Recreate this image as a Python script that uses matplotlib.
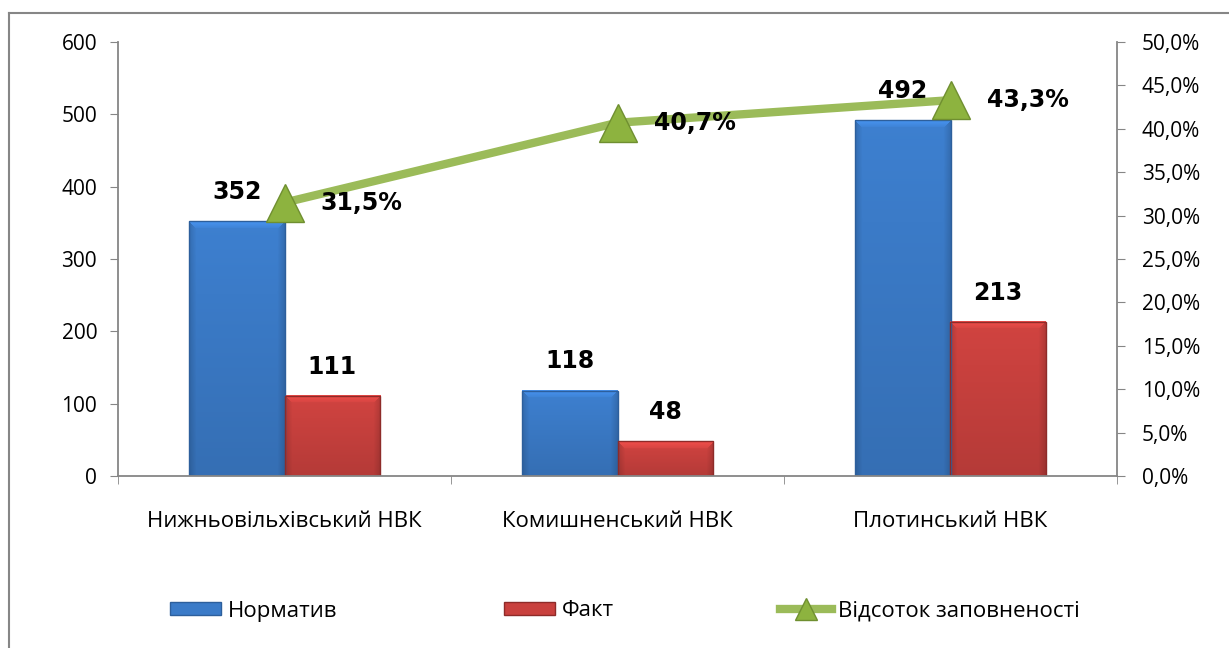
import numpy as np
import matplotlib.pyplot as plt
from matplotlib.colors import to_rgb
from matplotlib.lines import Line2D
from matplotlib.patches import Patch

plt.rcParams['font.family'] = ['Open Sans', 'DejaVu Sans']

schools = ['Нижньовільхівський НВК', 'Комишненський НВК', 'Плотинський НВК']
norm = [352, 118, 492]
fact = [111, 48, 213]
pct = [31.5, 40.7, 43.3]

blue = '#3b7bc8'
red = '#c9413e'
green = '#9bbb59'
grey = '#868686'

fig = plt.figure(figsize=(12.29, 6.48), dpi=100)
ax = fig.add_axes([118/1229, 1-476/648, 999/1229, 434/648])
ax.set_xlim(-0.5, 2.5)
ax.set_ylim(0, 600)
x = np.arange(len(schools))
w = 0.286

b1 = ax.bar(x - w/2, norm, w, edgecolor='#2d5f9c', linewidth=1)
b2 = ax.bar(x + w/2, fact, w, edgecolor='#8e2b29', linewidth=1)


def bevel(rect, base):
    # fake the excel bevel: light top strip, darker sides
    x0, y0 = ax.transData.transform((rect.get_x(), 0))
    x1, y1 = ax.transData.transform((rect.get_x() + rect.get_width(), rect.get_height()))
    wp, hp = max(int(x1 - x0), 2), max(int(y1 - y0), 2)
    f = np.ones((hp, wp))
    f *= np.linspace(1.04, 0.9, hp)[:, None]
    cols = np.arange(wp)
    rows = np.arange(hp)
    for k in range(7):
        f[:, k] *= 0.86 + 0.02 * k
        f[:, wp - 1 - k] *= 0.86 + 0.02 * k
    for k in range(min(7, hp)):
        f[k, k:wp - k] = 1.2 - 0.02 * k
    img = np.clip(np.array(to_rgb(base))[None, None, :] * f[:, :, None], 0, 1)
    ax.imshow(img, extent=[rect.get_x(), rect.get_x() + rect.get_width(), 0, rect.get_height()],
              aspect='auto', zorder=1.5, interpolation='bilinear')
    rect.set_facecolor('none')
    rect.set_zorder(2)


for bars, base in [(b1, blue), (b2, red)]:
    for r in bars:
        bevel(r, base)

for bars, vals in [(b1, norm), (b2, fact)]:
    for r, v in zip(bars, vals):
        ax.annotate(str(v), (r.get_x() + r.get_width()/2, v), xytext=(0, 21),
                    textcoords='offset points', ha='center', va='center',
                    fontsize=17, fontweight='bold', family='DejaVu Sans')

ax.set_xlim(-0.5, 2.5)
ax.set_ylim(0, 600)
ax.set_yticks(range(0, 601, 100))
ax.set_xticks(x)
ax.set_xticklabels(schools, fontsize=16)
ax.set_xticks([-0.5, 0.5, 1.5, 2.5], minor=True)
ax.tick_params(axis='x', which='major', length=0, pad=25)
ax.tick_params(axis='x', which='minor', length=6, color=grey, direction='out')
ax.tick_params(axis='y', length=6, color=grey, labelsize=15, pad=9)
for s in ['top', 'right']:
    ax.spines[s].set_visible(False)
for s in ['left', 'bottom']:
    ax.spines[s].set_color(grey)
    ax.spines[s].set_linewidth(1.3)

ax2 = ax.twinx()
ax2.plot(x, pct, color=green, lw=6, marker='^', ms=27,
         mfc='#8db33f', mec='#6f8f30', mew=1, zorder=3)
for xi, v in zip(x, pct):
    ax2.annotate(f'{v:.1f}%'.replace('.', ','), (xi, v), xytext=(26, 0),
                 textcoords='offset points', ha='left', va='center',
                 fontsize=17, fontweight='bold', family='DejaVu Sans')
ax2.set_ylim(0, 50)
ax2.set_yticks(range(0, 51, 5))
ax2.set_yticklabels([f'{t:.1f}%'.replace('.', ',') for t in range(0, 51, 5)])
ax2.tick_params(axis='y', length=6, color=grey, labelsize=15, pad=12)
for s in ['top', 'left', 'bottom']:
    ax2.spines[s].set_visible(False)
ax2.spines['right'].set_color(grey)
ax2.spines['right'].set_linewidth(1.3)

handles = [Patch(facecolor=blue, edgecolor='#2d5f9c'),
           Patch(facecolor=red, edgecolor='#8e2b29'),
           Line2D([], [], color=green, lw=6, marker='^', ms=16,
                  mfc='#8db33f', mec='#6f8f30')]
fig.legend(handles, ['Норматив', 'Факт', 'Відсоток заповненості'],
           loc='center', bbox_to_anchor=(625/1229, 1-611/648), ncol=3,
           frameon=False, fontsize=16, handlelength=2.3, handleheight=0.5,
           handletextpad=0.3, columnspacing=7.5)

# chart area border
fig.add_artist(Line2D([9/1229, 9/1229], [0, 1-13/648], color=grey, lw=1.5))
fig.add_artist(Line2D([9/1229, 1], [1-13/648, 1-13/648], color=grey, lw=1.5))

fig.savefig('out.png', dpi=100)
